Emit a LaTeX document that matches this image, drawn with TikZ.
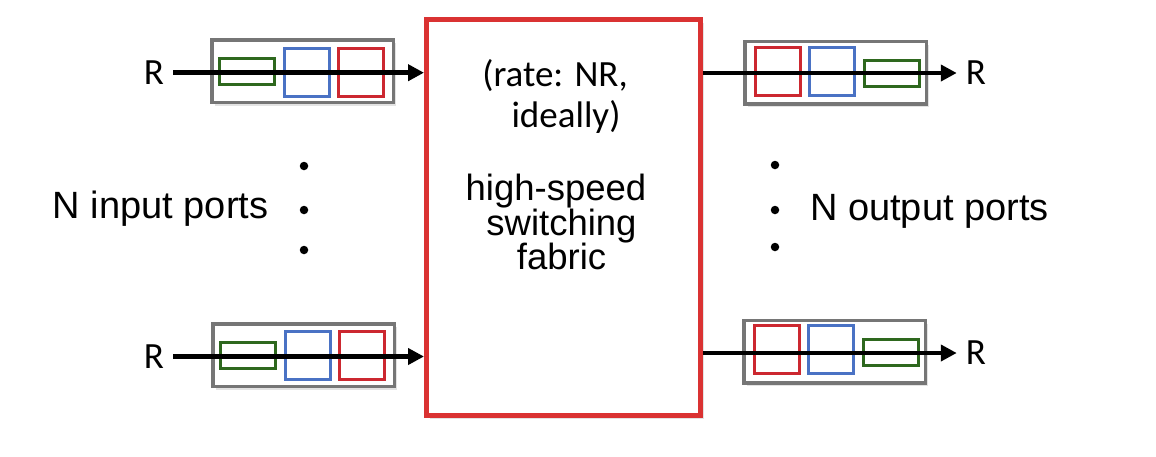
\documentclass[tikz,border=0pt]{standalone}
\usepackage{fontspec}
\setmainfont{Liberation Sans}
\newfontfamily\calib{Carlito}
\usetikzlibrary{arrows.meta,shadows,calc}
\definecolor{fabred}{RGB}{218,50,50}
\definecolor{qgreen}{RGB}{46,104,30}
\definecolor{qblue}{RGB}{74,114,196}
\definecolor{qred}{RGB}{204,40,48}
\definecolor{portgray}{RGB}{118,118,118}
\begin{document}
\begin{tikzpicture}[x=1pt,y=-1pt,
  softshadow/.style={drop shadow={opacity=0.22,shadow xshift=3pt,shadow yshift=-3.5pt}},
  port/.style={draw=portgray, line width=3.5pt, fill=white, minimum width=181.5pt, minimum height=62.5pt, inner sep=0pt, softshadow},
  gq/.style={draw=qgreen, line width=3pt, minimum width=55pt, minimum height=26pt, inner sep=0pt},
  bq/.style={draw=qblue, line width=3pt, minimum width=45pt, minimum height=48pt, inner sep=0pt},
  rq/.style={draw=qred, line width=3pt, minimum width=45pt, minimum height=48pt, inner sep=0pt},
  flow/.style={line width=4.5pt, -{Triangle[length=16pt,width=16pt]}},
  lbl/.style={font=\fontsize{38}{44}\selectfont, inner sep=0pt},
  fablbl/.style={font={\fontsize{36.5}{34.6}\selectfont\lineskiplimit=-100pt}, inner sep=0pt, align=center},
  ratelbl/.style={font={\calib\fontsize{37}{41.2}\selectfont\lineskiplimit=-100pt}, inner sep=0pt, align=center},
  rlbl/.style={font=\calib\fontsize{37}{40}\selectfont, inner sep=0pt},
  bigdot/.style={circle, fill=black, minimum size=8.5pt, inner sep=0pt}
]
\useasboundingbox (0,0) rectangle (1156,456);
\fill[white] (0,0) rectangle (1156,456);

% switching fabric
\node[draw=fabred, line width=5pt, fill=white, minimum width=274pt, minimum height=396pt, inner sep=0pt, softshadow] (fab) at (563.5,217.5) {};
\node[ratelbl, anchor=north] (rate) at (566,59.5) {(rate: NR,\hspace*{22pt}\\ideally)};
\node[fablbl, anchor=north] (hs) at (561.5,174.1) {high-speed\hspace*{11pt}\\switching\\fabric};

% input ports
\node[port] (pin1) at (302.5,71) {};
\node[gq] (pin1g) at ($(pin1)+(-55.5,0.5)$) {};
\node[bq] (pin1b) at ($(pin1)+(4.5,1.5)$) {};
\node[rq] (pin1r) at ($(pin1)+(58.5,1.5)$) {};
\node[port] (pin2) at (303.5,355) {};
\node[gq] (pin2g) at ($(pin2)+(-55.5,0.5)$) {};
\node[bq] (pin2b) at ($(pin2)+(4.5,0.5)$) {};
\node[rq] (pin2r) at ($(pin2)+(58.5,0.5)$) {};

% output ports
\node[port] (pout1) at (835.5,72.5) {};
\node[rq] (pout1r) at ($(pout1)+(-58,-1.5)$) {};
\node[bq] (pout1b) at ($(pout1)+(-3.5,-1.5)$) {};
\node[gq] (pout1g) at ($(pout1)+(56,0.5)$) {};
\node[port] (pout2) at (834.5,351.5) {};
\node[rq] (pout2r) at ($(pout2)+(-58,-2)$) {};
\node[bq] (pout2b) at ($(pout2)+(-3.5,-2)$) {};
\node[gq] (pout2g) at ($(pout2)+(56,1)$) {};

% R labels
\node[rlbl] (rl1) at (154,72.7) {R};
\node[rlbl] (rl2) at (154,356.5) {R};
\node[rlbl] (rr1) at (976,73) {R};
\node[rlbl] (rr2) at (976,353) {R};

% arrows
\draw[flow] ([xshift=9pt]rl1.east) -- (rl1.east -| fab.west);
\draw[flow] ([xshift=9pt]rl2.east) -- (rl2.east -| fab.west);
\draw[flow] (fab.east |- rr1.west) -- ([xshift=-9pt]rr1.west);
\draw[flow] (fab.east |- rr2.west) -- ([xshift=-9pt]rr2.west);

% side labels and dots
\node[lbl, anchor=base west] (nin) at (52.7,218) {N input ports};
\node[lbl, anchor=base west] (nout) at (810,220) {N output ports};
\node[bigdot] (dl1) at (304,166) {};
\node[bigdot] (dl2) at (304,210) {};
\node[bigdot] (dl3) at (304,250) {};
\node[bigdot] (dr1) at (775,165) {};
\node[bigdot] (dr2) at (775,210) {};
\node[bigdot] (dr3) at (775,247) {};
\end{tikzpicture}
\end{document}
